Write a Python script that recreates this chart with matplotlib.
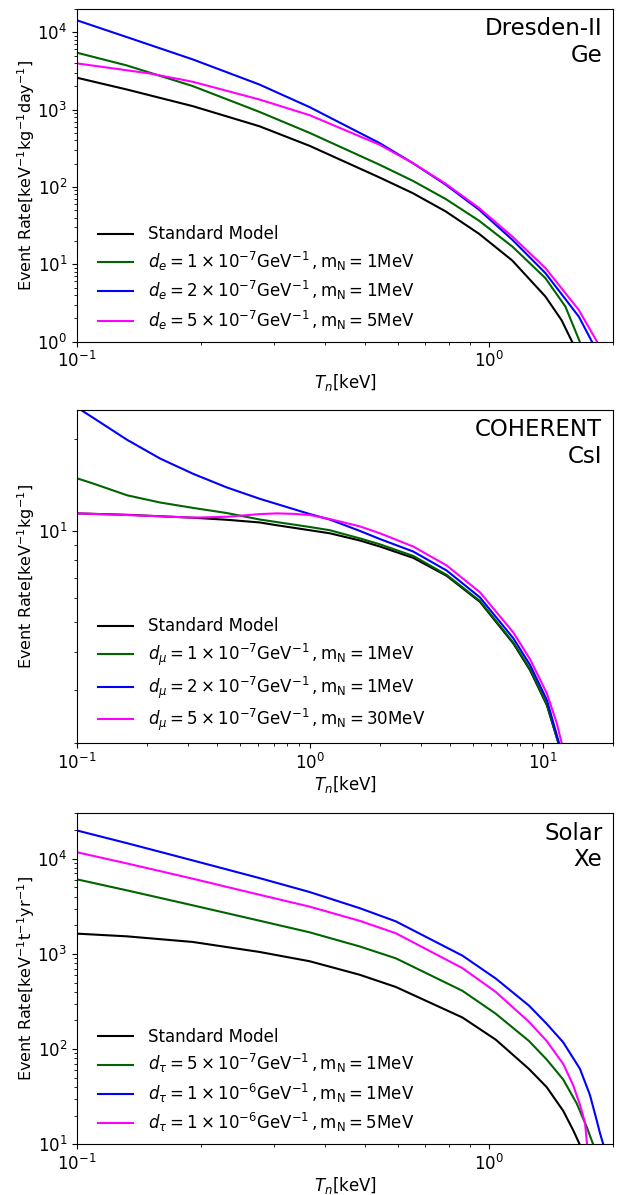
#!/usr/bin/env python
"""Event-rate spectra: SM vs. neutrino dipole portal, three experiments stacked."""
import matplotlib

matplotlib.use("Agg")
import matplotlib.pyplot as plt  # noqa: E402

OUT = "out.png"

# ── Dresden-II / Ge ──────────────────────────────────────────────────────────
dres_sm_x = [0.1, 0.132, 0.191, 0.277, 0.367, 0.5417, 0.652, 0.785, 0.946, 1.139, 1.371, 1.50, 1.591]
dres_sm_y = [2580, 1821, 1108, 610, 340, 133, 83.6, 48.3, 24.8, 11.2, 3.83, 1.9, 1.0]
dres_g_x = [0.1, 0.132, 0.191, 0.277, 0.367, 0.5417, 0.652, 0.785, 0.946, 1.139, 1.371, 1.533, 1.661]
dres_g_y = [5435, 3726, 2013, 936, 500, 194.5, 120.7, 69.9, 36.6, 17.0, 6.62, 2.84, 1.0]
dres_b_x = [0.1, 0.132, 0.191, 0.277, 0.367, 0.5417, 0.652, 0.785, 0.946, 1.139, 1.371, 1.652, 1.778]
dres_b_y = [14260, 8670, 4455, 2113, 1076, 371, 205, 107, 50.8, 20.8, 7.69, 2.11, 1.0]
dres_m_x = [0.1, 0.150, 0.191, 0.277, 0.367, 0.5417, 0.652, 0.785, 0.946, 1.139, 1.371, 1.652, 1.829]
dres_m_y = [3956, 2936, 2290, 1352, 847, 353, 205, 110, 53.4, 22.9, 8.93, 2.57, 1.0]

# ── COHERENT / CsI ───────────────────────────────────────────────────────────
coh_sm_x = [0.1, 0.164, 0.316, 0.44, 0.61, 0.72, 1.0, 1.218, 1.638, 2.0, 2.78, 3.87, 5.37, 7.47, 8.81, 10.4, 11.67]
coh_sm_y = [11.42, 11.3, 11.05, 10.88, 10.66, 10.44, 10.05, 9.82, 9.3, 8.88, 8.15, 7.11, 5.84, 4.26, 3.48, 2.67, 2.0]
coh_g_x = [0.1, 0.118, 0.164, 0.2276, 0.316, 0.44, 0.61, 1.0, 1.218, 1.638, 2.0, 2.78, 3.87, 5.37, 7.47, 8.81,
           10.4, 11.67]
coh_g_y = [14.9, 14.3, 13.1, 12.4, 11.9, 11.45, 10.9, 10.3, 10.05, 9.45, 9.03, 8.27, 7.16, 5.88, 4.29, 3.51,
           2.69, 2.0]
coh_b_x = [0.1, 0.118, 0.164, 0.2276, 0.316, 0.44, 0.61, 1.0, 1.218, 1.638, 2.0, 2.78, 3.87, 5.37, 7.47, 8.81,
           10.4, 11.74]
coh_b_y = [25.5, 23.5, 19.95, 17.3, 15.4, 13.9, 12.75, 11.36, 10.9, 10.0, 9.4, 8.55, 7.4, 6.04, 4.43, 3.62,
           2.78, 2.0]
coh_m_x = [0.1, 0.164, 0.316, 0.44, 0.61, 0.72, 0.85, 1.0, 1.218, 1.638, 2.0, 2.78, 3.87, 5.37, 7.47, 8.81,
           10.4, 11.47, 12.05]
coh_m_y = [11.42, 11.28, 11.06, 11.13, 11.36, 11.42, 11.38, 11.28, 10.94, 10.35, 9.82, 8.88, 7.69, 6.28, 4.63,
           3.78, 2.92, 2.33, 2.0]

# ── Solar / Xe ───────────────────────────────────────────────────────────────
sol_sm_x = [0.1, 0.132, 0.191, 0.277, 0.367, 0.485, 0.594, 0.862, 1.038, 1.25, 1.38, 1.514, 1.602, 1.66]
sol_sm_y = [1634, 1531, 1336, 1050, 838, 605, 450, 215, 126, 62, 40, 22.5, 14, 10.0]
sol_g_x = [0.1, 0.132, 0.191, 0.277, 0.367, 0.485, 0.594, 0.862, 1.038, 1.25, 1.38, 1.514, 1.632, 1.726, 1.79]
sol_g_y = [6070, 4660, 3240, 2237, 1687, 1200, 900, 410, 236, 122, 78, 48, 27, 15.3, 10.0]
sol_b_x = [0.1, 0.132, 0.191, 0.277, 0.367, 0.485, 0.594, 0.862, 1.038, 1.25, 1.38, 1.514, 1.663, 1.758,
           1.825, 1.86, 1.894]
sol_b_y = [19800, 14600, 9600, 6270, 4470, 3030, 2200, 960, 553, 287, 185, 118, 62, 33, 18, 13.1, 10.0]
sol_m_x = [0.1, 0.132, 0.191, 0.277, 0.367, 0.485, 0.594, 0.862, 1.038, 1.25, 1.38, 1.514, 1.60, 1.663, 1.71,
           1.73]
sol_m_y = [11700, 8940, 6170, 4190, 3140, 2230, 1650, 710, 400, 194, 122, 70, 42, 26, 17, 10.0]

dres_labels = ["Standard Model",
               r"$d_e = 1\times10^{-7}\mathrm{GeV}^{-1}\,,\mathrm{m_N} = 1\mathrm{MeV}$",
               r"$d_e = 2\times10^{-7}\mathrm{GeV}^{-1}\,,\mathrm{m_N} = 1\mathrm{MeV}$",
               r"$d_e = 5\times10^{-7}\mathrm{GeV}^{-1}\,,\mathrm{m_N} = 5\mathrm{MeV}$"]
coh_labels = ["Standard Model",
              r"$d_\mu = 1\times10^{-7}\mathrm{GeV}^{-1}\,,\mathrm{m_N} = 1\mathrm{MeV}$",
              r"$d_\mu = 2\times10^{-7}\mathrm{GeV}^{-1}\,,\mathrm{m_N} = 1\mathrm{MeV}$",
              r"$d_\mu = 5\times10^{-7}\mathrm{GeV}^{-1}\,,\mathrm{m_N} = 30\mathrm{MeV}$"]
sol_labels = ["Standard Model",
              r"$d_\tau = 5\times10^{-7}\mathrm{GeV}^{-1}\,,\mathrm{m_N} = 1\mathrm{MeV}$",
              r"$d_\tau = 1\times10^{-6}\mathrm{GeV}^{-1}\,,\mathrm{m_N} = 1\mathrm{MeV}$",
              r"$d_\tau = 1\times10^{-6}\mathrm{GeV}^{-1}\,,\mathrm{m_N} = 5\mathrm{MeV}$"]

COLORS = ["black", "darkgreen", "blue", "magenta"]


def panel(ax, curves, labels, xlim, ylim, ylabel, tag):
    for (x, y), lab, c in zip(curves, labels, COLORS):
        ax.plot(x, y, color=c, lw=1.5, label=lab)
    ax.set_xscale("log")
    ax.set_yscale("log")
    ax.set_xlim(*xlim)
    ax.set_ylim(*ylim)
    ax.set_xlabel(r"$T_n[\mathrm{keV}]$", fontsize=12, labelpad=0.5)
    ax.set_ylabel(ylabel, fontsize=11.5, labelpad=0.5)
    ax.tick_params(labelsize=12)
    ax.text(0.98, 0.975, tag, transform=ax.transAxes, ha="right", va="top",
            multialignment="right", fontsize=16.5)
    ax.legend(loc="lower left", bbox_to_anchor=(0.011, -0.015), frameon=False, fontsize=12,
              labelspacing=0.38, handlelength=2.1, handletextpad=0.9)


def main():
    fig = plt.figure(figsize=(6.2, 11.95), dpi=100)
    ax1 = fig.add_axes([0.1242, 0.7141, 0.8645, 0.2784])
    ax2 = fig.add_axes([0.1242, 0.3780, 0.8645, 0.2789])
    ax3 = fig.add_axes([0.1242, 0.0424, 0.8645, 0.2770])

    panel(ax1, [(dres_sm_x, dres_sm_y), (dres_g_x, dres_g_y), (dres_b_x, dres_b_y), (dres_m_x, dres_m_y)],
          dres_labels, (0.1, 2), (1, 2e4),
          r"$\mathrm{Event\ Rate[keV^{-1}kg^{-1}day^{-1}]}$", "Dresden-II\nGe")
    panel(ax2, [(coh_sm_x, coh_sm_y), (coh_g_x, coh_g_y), (coh_b_x, coh_b_y), (coh_m_x, coh_m_y)],
          coh_labels, (0.1, 20), (2, 25),
          r"$\mathrm{Event\ Rate[keV^{-1}kg^{-1}]}$", "COHERENT\nCsI")
    panel(ax3, [(sol_sm_x, sol_sm_y), (sol_g_x, sol_g_y), (sol_b_x, sol_b_y), (sol_m_x, sol_m_y)],
          sol_labels, (0.1, 2), (10, 3e4),
          r"$\mathrm{Event\ Rate[keV^{-1}t^{-1}yr^{-1}]}$", "Solar\nXe")

    fig.savefig(OUT, dpi=100)
    plt.close(fig)


if __name__ == "__main__":
    main()
